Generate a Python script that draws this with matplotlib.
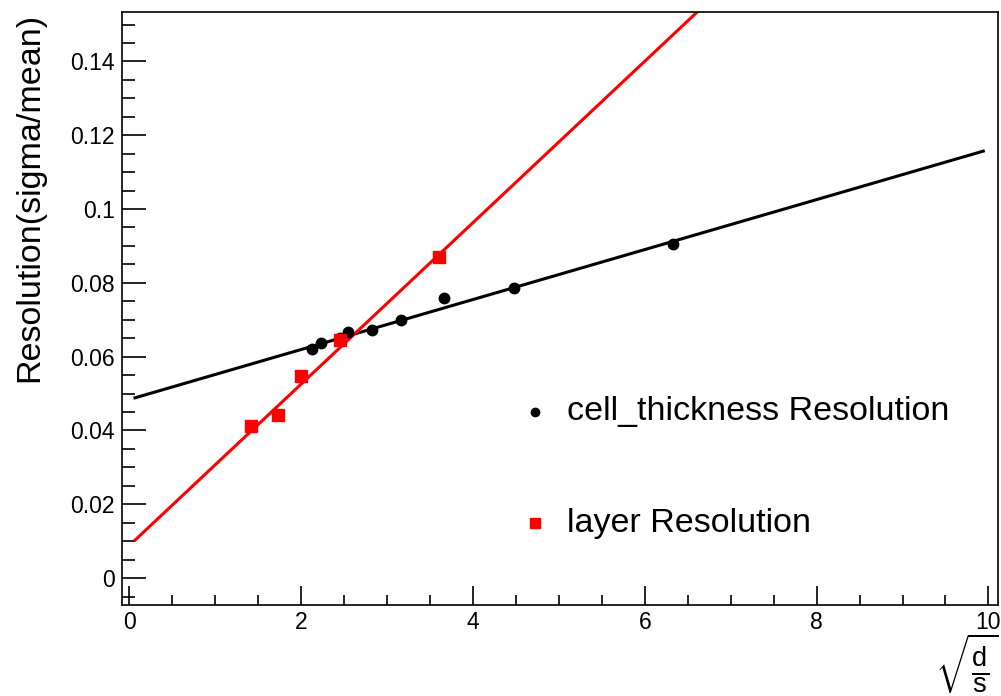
import matplotlib
matplotlib.use("Agg")
import matplotlib.pyplot as plt
import numpy as np

plt.rcParams['font.family'] = ['Liberation Sans', 'DejaVu Sans']
plt.rcParams['mathtext.fontset'] = 'custom'
plt.rcParams['mathtext.rm'] = 'Liberation Sans'
plt.rcParams['mathtext.it'] = 'Liberation Sans'

# cell_thickness points
cell_x = [2.121, 2.236, 2.449, 2.55, 2.828, 3.162, 3.666, 4.472, 6.325]
cell_y = [0.0622, 0.0636, 0.0651, 0.0668, 0.0673, 0.0698, 0.0758, 0.0786, 0.0905]
# layer points
layer_x = [1.414, 1.732, 2.0, 2.449, 3.606]
layer_y = [0.0412, 0.0442, 0.0548, 0.0646, 0.0870]

# linear fits: intercept, slope
cell_fit = [0.0484, 0.00677]
layer_fit = [0.00883, 0.02187]
fit_range = [0.066, 9.94]

fig = plt.figure(figsize=(10.01, 6.96), dpi=100)
ax = fig.add_axes([0.1219, 0.1307, 0.875, 0.8521])

xs = np.linspace(fit_range[0], fit_range[1], 200)
ax.plot(xs, cell_fit[0] + cell_fit[1] * xs, color='black', lw=2.2)
ax.plot(xs, layer_fit[0] + layer_fit[1] * xs, color='red', lw=2.2)

ax.plot(cell_x, cell_y, 'o', color='black', ms=7.5, zorder=3)
ax.plot(layer_x, layer_y, 's', color='red', ms=8.5, zorder=3)

ax.set_xlim(-0.085, 10.11)
ax.set_ylim(-0.0073, 0.1534)

ax.set_xticks(np.arange(0, 10.1, 2))
ax.set_xticklabels(['0', '2', '4', '6', '8', '10'])
ax.set_xticks(np.arange(0, 10.01, 0.5), minor=True)
ax.set_yticks(np.arange(0, 0.141, 0.02))
ax.set_yticklabels(['0', '0.02', '0.04', '0.06', '0.08', '0.1', '0.12', '0.14'])
ax.set_yticks(np.arange(-0.005, 0.1534, 0.005), minor=True)

ax.tick_params(axis='both', which='both', direction='in', top=False, right=False,
               labelsize=16.5, width=1.2)
ax.tick_params(axis='y', which='major', length=17, pad=5)
ax.tick_params(axis='y', which='minor', length=9)
ax.tick_params(axis='x', which='major', length=14, pad=4)
ax.tick_params(axis='x', which='minor', length=7)
for s in ax.spines.values():
    s.set_linewidth(1.2)

# legend (ROOT-like, no frame)
ax.plot([0.4715], [0.3255], 'o', color='black', ms=6, transform=ax.transAxes, clip_on=False)
ax.plot([0.4715], [0.1383], 's', color='red', ms=7, transform=ax.transAxes, clip_on=False)
ax.text(0.508, 0.3255, 'cell_thickness Resolution', transform=ax.transAxes,
        fontsize=24.5, va='center', ha='left')
ax.text(0.508, 0.1383, 'layer Resolution', transform=ax.transAxes,
        fontsize=24.5, va='center', ha='left')

fig.text(30 / 1001, 1 - 13 / 696, 'Resolution(sigma/mean)', rotation=90,
         fontsize=24.5, ha='center', va='top')
fig.text(0.998, 1 - 632 / 696, r'$\sqrt{\frac{d}{s}}$', fontsize=28, ha='right', va='top')

fig.savefig('out.png', dpi=100)
